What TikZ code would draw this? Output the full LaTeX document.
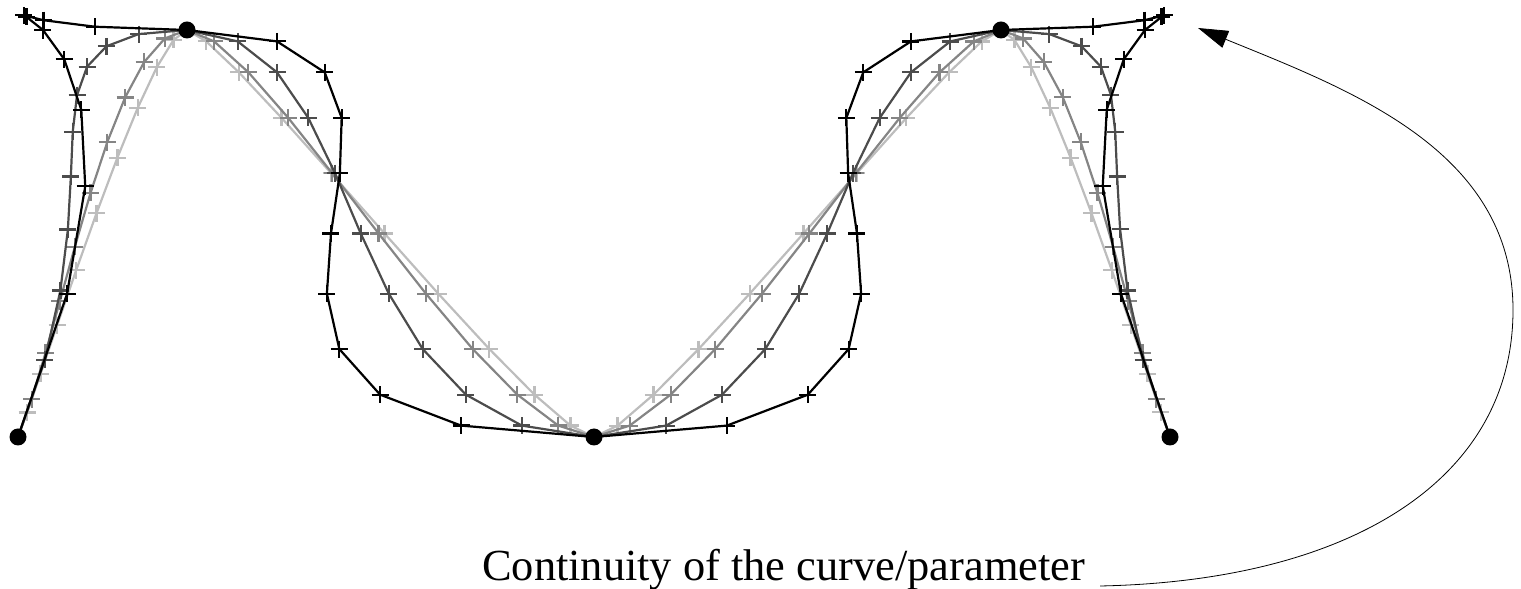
\documentclass[tikz,border=0pt]{standalone}
\usepackage{fontspec}
\setmainfont{Liberation Serif}
\usetikzlibrary{plotmarks,arrows.meta}
\definecolor{cdark}{gray}{0.30}
\definecolor{cmid}{gray}{0.52}
\definecolor{clight}{gray}{0.74}
\begin{document}
\begin{tikzpicture}[x=1pt,y=1pt,
  curve/.style={line width=2.2pt, line join=round},
  ctrl/.style={circle, fill=black, inner sep=0pt, minimum size=17pt},
  lab/.style={font=\fontsize{44.4}{50}\selectfont, inner sep=0pt},
  pointer/.style={line width=0.8pt, -{Triangle[length=30pt,width=18pt]}}]
\useasboundingbox (0,0) rectangle (1521,589);
% Hermite segments with tangents s*(P_{i+1}-P_{i-1})/2
\foreach \s/\c in {0.4/clight,0.8/cmid,2/cdark,4/black}{
  \foreach \ax/\ay/\bx/\by/\ux/\uy/\vx/\vy in {
      18/152/187/559/169/407/288/0,
      187/559/594/152/288/0/407/0,
      594/152/1001/559/407/0/288/0,
      1001/559/1170/152/288/0/169/-407}{
    \draw[curve, draw=\c, mark=+, mark size=8.5pt, mark indices={2,...,10},
          mark options={solid, draw=\c}]
      plot[domain=0:1, samples=11, variable=\t]
      ({(2*\t^3-3*\t^2+1)*\ax + (-2*\t^3+3*\t^2)*\bx + \s*((\t^3-2*\t^2+\t)*\ux + (\t^3-\t^2)*\vx)},
       {(2*\t^3-3*\t^2+1)*\ay + (-2*\t^3+3*\t^2)*\by + \s*((\t^3-2*\t^2+\t)*\uy + (\t^3-\t^2)*\vy)});
  }
}
\node[ctrl] (p0) at (18,152) {};
\node[ctrl] (p1) at (187,559) {};
\node[ctrl] (p2) at (594,152) {};
\node[ctrl] (p3) at (1001,559) {};
\node[ctrl] (p4) at (1170,152) {};
\node[lab, anchor=base west] (lbl) at (482,8) {Continuity of the curve/parameter};
\coordinate (tail) at (1100,3);
\coordinate (tip) at (1198,561);
\draw[pointer] (tail) .. controls (1350,8) and (1513,109) .. (1513,279)
  .. controls (1513,439) and (1350,499) .. (tip);
\end{tikzpicture}
\end{document}
